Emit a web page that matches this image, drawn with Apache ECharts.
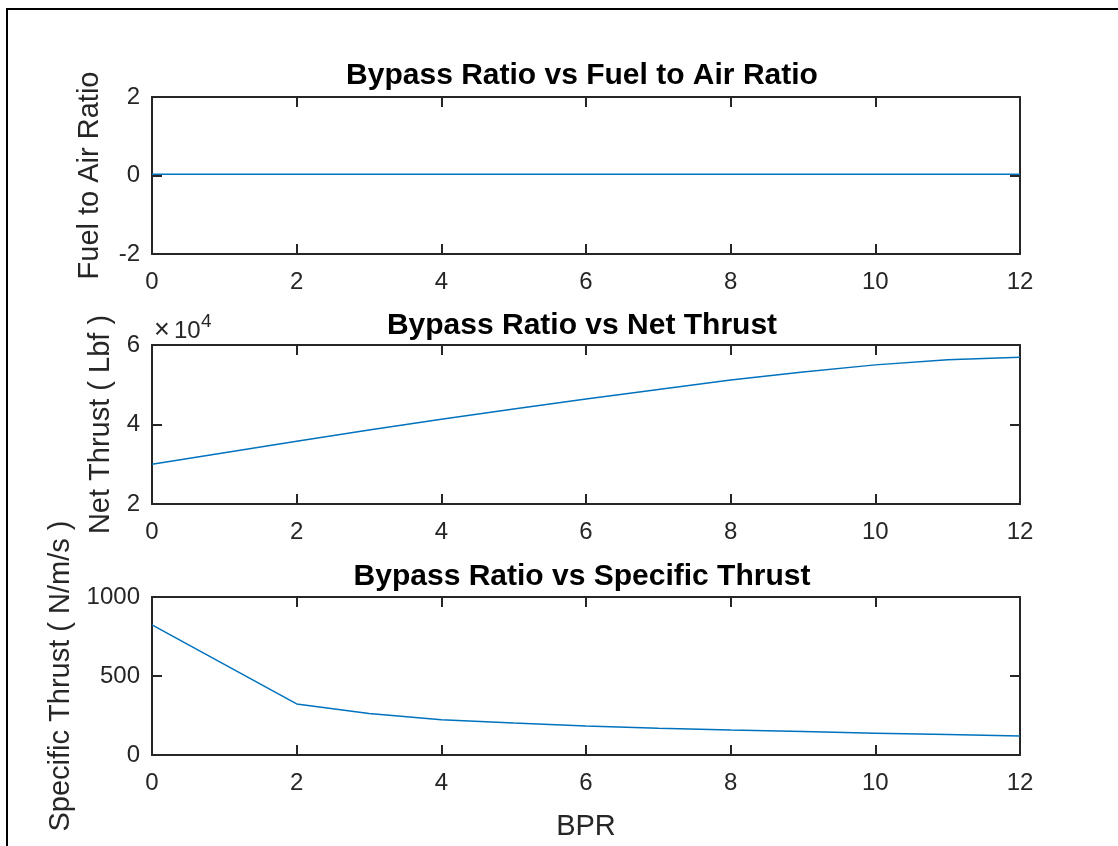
<!DOCTYPE html>
<html>
<head>
<meta charset="utf-8">
<title>Bypass Ratio Study</title>
<script src="https://cdn.jsdelivr.net/npm/echarts@6/dist/echarts.min.js"></script>
<style>
  html, body { margin: 0; padding: 0; background: #fff; }
  #chart { width: 1118px; height: 846px; }
</style>
</head>
<body>
<div id="chart"></div>
<script>
// Bypass ratio samples
const bpr = [0, 2, 3, 4, 5, 6, 7, 8, 9, 10, 11, 12];
// Fuel to air ratio at each bypass ratio
const fuelAir = [0.03, 0.03, 0.03, 0.03, 0.03, 0.03, 0.03, 0.03, 0.03, 0.03, 0.03, 0.03];
// Net thrust (lbf)
const netThrust = [30000, 35800, 38600, 41300, 43900, 46400, 48800, 51200, 53200, 55000, 56300, 56900];
// Specific thrust (N/m/s)
const specThrust = [823, 323, 262, 223, 203, 184, 170, 158, 148, 138, 129, 120];

const titles = ['Bypass Ratio vs Fuel to Air Ratio', 'Bypass Ratio vs Net Thrust', 'Bypass Ratio vs Specific Thrust'];
const yNames = ['Fuel to Air Ratio', 'Net Thrust ( Lbf )', 'Specific Thrust ( N/m/s )'];
const xTicks = { min: 0, max: 12, interval: 2 };
const yTicks = [
  { min: -2, max: 2, interval: 2 },
  { min: 20000, max: 60000, interval: 20000 },
  { min: 0, max: 1000, interval: 500 }
];

const FONT = 'Liberation Sans, Arial, Helvetica, sans-serif';
const AX = '#262626';
const LINE = '#0072BD';
const TICK_FS = 24;
const LABEL_FS = 29;
const TITLE_FS = 30;

const grids = [
  { left: 152, right: 98, top: 97, height: 157 },
  { left: 152, right: 98, top: 345, height: 159 },
  { left: 152, right: 98, top: 597, height: 158 }
];
const yNameGaps = [48, 36, 77];
const titleTops = [56, 306, 557];

const xAxes = [], yAxes = [], series = [], titleArr = [];
const dataSets = [fuelAir, netThrust, specThrust];

grids.forEach((g, i) => {
  const common = {
    type: 'value', gridIndex: i,
    min: xTicks.min, max: xTicks.max, interval: xTicks.interval,
    axisLine: { show: true, onZero: false, lineStyle: { color: AX, width: 2 } },
    axisTick: { show: true, inside: true, length: 10, lineStyle: { color: AX, width: 2 } },
    splitLine: { show: false }
  };
  xAxes.push(Object.assign({}, common, {
    position: 'bottom',
    axisLabel: { show: true, margin: 16, fontSize: TICK_FS, color: AX, fontFamily: FONT },
    name: i === 2 ? 'BPR' : '',
    nameLocation: 'middle', nameGap: 57,
    nameTextStyle: { fontSize: LABEL_FS, color: AX, fontFamily: FONT }
  }));
  xAxes.push(Object.assign({}, common, {
    position: 'top', axisLabel: { show: false }
  }));
  const yt = yTicks[i];
  const ycommon = {
    type: 'value', gridIndex: i,
    min: yt.min, max: yt.max, interval: yt.interval,
    axisLine: { show: true, onZero: false, lineStyle: { color: AX, width: 2 } },
    axisTick: { show: true, inside: true, length: 10, lineStyle: { color: AX, width: 2 } },
    splitLine: { show: false }
  };
  yAxes.push(Object.assign({}, ycommon, {
    position: 'left',
    axisLabel: {
      show: true, margin: 12, fontSize: TICK_FS, color: AX, fontFamily: FONT,
      formatter: i === 1 ? (v => String(v / 10000)) : (v => String(v))
    },
    name: yNames[i], nameLocation: 'middle', nameGap: yNameGaps[i], nameRotate: 90,
    nameTextStyle: { fontSize: LABEL_FS, color: AX, fontFamily: FONT }
  }));
  yAxes.push(Object.assign({}, ycommon, {
    position: 'right', axisLabel: { show: false }
  }));
  series.push({
    type: 'line', xAxisIndex: i * 2, yAxisIndex: i * 2,
    data: bpr.map((x, k) => [x, dataSets[i][k]]),
    showSymbol: false, symbol: 'none',
    lineStyle: { color: LINE, width: 1.5 },
    animation: false
  });
  titleArr.push({
    text: titles[i], left: 577, top: titleTops[i], textAlign: 'center',
    textStyle: { fontSize: TITLE_FS, fontWeight: 'bold', color: '#000', fontFamily: FONT }
  });
});

const chart = echarts.init(document.getElementById('chart'), null, { renderer: 'canvas' });
chart.setOption({
  backgroundColor: '#fff',
  animation: false,
  title: titleArr,
  grid: grids,
  xAxis: xAxes,
  yAxis: yAxes,
  series: series,
  graphic: [
    {
      type: 'rect', silent: true,
      shape: { x: 7, y: 9, width: 1200, height: 900 },
      style: { fill: 'none', stroke: '#000', lineWidth: 2 }
    },
    // exponent marker for the net thrust axis
    {
      type: 'text', silent: true, x: 154, y: 344,
      style: { text: '×', fontSize: 27, fill: AX, fontFamily: FONT, verticalAlign: 'bottom', align: 'left' }
    },
    {
      type: 'text', silent: true, x: 174, y: 343,
      style: { text: '10', fontSize: 24, fill: AX, fontFamily: FONT, verticalAlign: 'bottom', align: 'left' }
    },
    {
      type: 'text', silent: true, x: 201, y: 331,
      style: { text: '4', fontSize: 19, fill: AX, fontFamily: FONT, verticalAlign: 'bottom', align: 'left' }
    }
  ]
});
</script>
</body>
</html>
